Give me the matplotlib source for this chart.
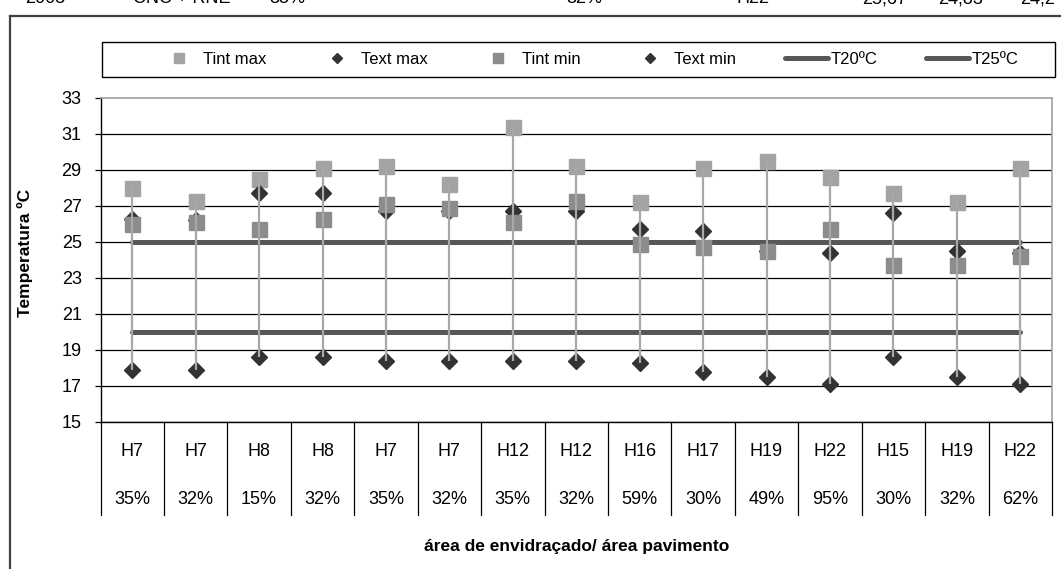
import matplotlib
matplotlib.use("Agg")
import matplotlib.pyplot as plt
from matplotlib.lines import Line2D
from matplotlib.patches import Rectangle

plt.rcParams['font.family'] = ['Liberation Sans', 'DejaVu Sans']

# ---------------- data ----------------
categories = ["H7", "H7", "H8", "H8", "H7", "H7", "H12", "H12", "H16",
              "H17", "H19", "H22", "H15", "H19", "H22"]
ratios = ["35%", "32%", "15%", "32%", "35%", "32%", "35%", "32%", "59%",
          "30%", "49%", "95%", "30%", "32%", "62%"]
tint_max = [28.0, 27.3, 28.5, 29.1, 29.2, 28.2, 31.4, 29.2, 27.2, 29.1, 29.5, 28.6, 27.7, 27.2, 29.1]
text_max = [26.3, 26.2, 27.7, 27.7, 26.7, 26.7, 26.7, 26.7, 25.7, 25.6, 24.5, 24.4, 26.6, 24.5, 24.4]
tint_min = [26.0, 26.1, 25.7, 26.3, 27.1, 26.9, 26.1, 27.3, 24.9, 24.7, 24.5, 25.7, 23.7, 23.7, 24.2]
text_min = [17.9, 17.9, 18.6, 18.6, 18.4, 18.4, 18.4, 18.4, 18.3, 17.8, 17.5, 17.1, 18.6, 17.5, 17.1]
t20 = 20.0
t25 = 25.0
y_ticks = [15, 17, 19, 21, 23, 25, 27, 29, 31, 33]

series_labels = ["Tint max", "Text max", "Tint min", "Text min", "T20ºC", "T25ºC"]
top_row_texts = ["2005", "CNC + RNE", "35%", "32%", "H22", "25,67", "24,83", "24,2"]

# ---------------- styles ----------------
W, H = 1061, 569
C_TMAX = '#A3A3A3'
C_TMIN = '#8C8C8C'
C_EXT = '#333333'
C_REF = '#575757'
C_DROP = '#A8A8A8'
FS = 13

fig = plt.figure(figsize=(W / 100, H / 100), dpi=100)
ax_l, ax_r, ax_t, ax_b = 100.5, 1052, 98, 422
ax = fig.add_axes([ax_l / W, 1 - ax_b / H, (ax_r - ax_l) / W, (ax_b - ax_t) / H])

n = len(categories)
x = list(range(n))

# reference lines
ax.plot([x[0], x[-1]], [t20, t20], color=C_REF, lw=3.6, solid_capstyle='round', zorder=2)
ax.plot([x[0], x[-1]], [t25, t25], color=C_REF, lw=3.6, solid_capstyle='round', zorder=2)

# markers
ax.plot(x, tint_max, ls='none', marker='s', ms=10.8, color=C_TMAX, mec=C_TMAX, zorder=3)
ax.plot(x, text_max, ls='none', marker='D', ms=8.3, color=C_EXT, mec=C_EXT, zorder=3.1)
ax.plot(x, tint_min, ls='none', marker='s', ms=10.8, color=C_TMIN, mec=C_TMIN, zorder=3.2)
ax.plot(x, text_min, ls='none', marker='D', ms=8.3, color=C_EXT, mec=C_EXT, zorder=3.3)

# high-low drop lines
highs = [max(a, b, c, d) for a, b, c, d in zip(tint_max, text_max, tint_min, text_min)]
lows = [min(a, b, c, d) for a, b, c, d in zip(tint_max, text_max, tint_min, text_min)]
ax.vlines(x, lows, highs, color=C_DROP, lw=1.6, zorder=5)

# axes
ax.set_xlim(-0.5, n - 0.5)
ax.set_ylim(y_ticks[0], y_ticks[-1])
ax.set_yticks(y_ticks)
ax.set_yticklabels([str(v) for v in y_ticks], fontsize=FS)
ax.set_xticks([])
ax.tick_params(axis='y', direction='out', length=4.5, width=0.9, pad=9, colors='black')
ax.yaxis.grid(True, color='black', lw=0.9, zorder=1)
ax.set_axisbelow(True)
for gl in ax.get_ygridlines()[-1:]:
    gl.set_visible(False)
ax.spines['left'].set_color('black')
ax.spines['left'].set_linewidth(1.0)
ax.spines['bottom'].set_color('black')
ax.spines['bottom'].set_linewidth(1.0)
ax.spines['top'].set_color('#A0A0A0')
ax.spines['right'].set_color('#A0A0A0')
ax.spines['top'].set_linewidth(1.2)
ax.spines['right'].set_linewidth(1.2)

# category table below the axis
axh = ax_b - ax_t
tr = ax.get_xaxis_transform()
for k in range(n + 1):
    ax.plot([k - 0.5, k - 0.5], [0, -93 / axh], color='black', lw=0.9,
            transform=tr, clip_on=False)
for xi, c, r in zip(x, categories, ratios):
    ax.text(xi, -30 / axh, c, transform=tr, ha='center', va='center', fontsize=FS)
    ax.text(xi, -78 / axh, r, transform=tr, ha='center', va='center', fontsize=FS)

# axis titles
fig.text(577 / W, 1 - 547 / H, "área de envidraçado/ área pavimento",
         ha='center', va='center', fontsize=12.5, fontweight='bold')
fig.text(25 / W, 1 - 253 / H, "Temperatura ºC", rotation=90,
         ha='center', va='center', fontsize=12.5, fontweight='bold')

# legend
handles = [
    Line2D([], [], ls='none', marker='s', ms=6.5, color=C_TMAX, mec=C_TMAX),
    Line2D([], [], ls='none', marker='D', ms=5, color=C_EXT, mec=C_EXT),
    Line2D([], [], ls='none', marker='s', ms=6.5, color=C_TMIN, mec=C_TMIN),
    Line2D([], [], ls='none', marker='D', ms=5, color=C_EXT, mec=C_EXT),
    Line2D([], [], color=C_REF, lw=3.6, solid_capstyle='round'),
    Line2D([], [], color=C_REF, lw=3.6, solid_capstyle='round'),
]
fig.legend(handles, series_labels, loc='center', bbox_to_anchor=(588 / W, 1 - 59.5 / H),
           ncol=6, frameon=False, fontsize=12, handlelength=2.6, handletextpad=0.15,
           columnspacing=2.9, borderpad=0.2)
fig.patches.append(Rectangle((101.5 / W, 1 - 77 / H), (1055 - 101.5) / W, 35 / H,
                             transform=fig.transFigure, fill=False, ec='black', lw=1.0))

# outer chart frame (partly outside the image)
fig.add_artist(Line2D([9.5 / W, 1.0], [1 - 15.7 / H, 1 - 15.7 / H], color='#404040', lw=1.6,
                      transform=fig.transFigure))
fig.add_artist(Line2D([9.5 / W, 9.5 / W], [1 - 15.7 / H, 0.0], color='#404040', lw=1.6,
                      transform=fig.transFigure))

# cut-off text row from the table above (only its lower edge is inside the image)
top_x = [25, 133, 269, 566, 737, 862, 938, 1020]
for tx, s in zip(top_x, top_row_texts):
    fig.text(tx / W, 1 - 3 / H, s, ha='left', va='baseline', fontsize=FS)

fig.savefig("out.png", dpi=100)
